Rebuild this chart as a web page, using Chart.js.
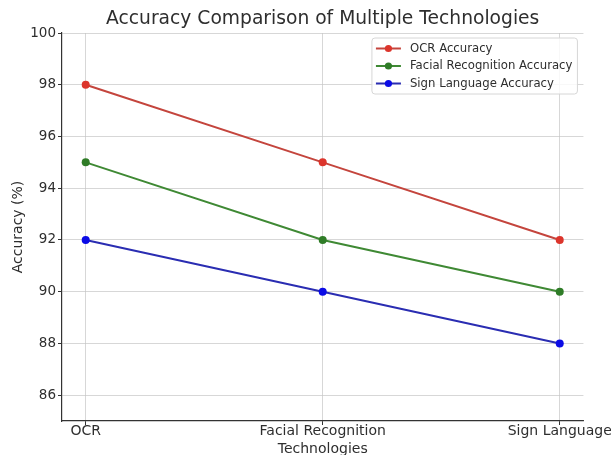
<!DOCTYPE html>
<html>
<head>
<meta charset="utf-8">
<script src="https://cdn.jsdelivr.net/npm/chart.js@4.4.1/dist/chart.umd.min.js"></script>
<style>
  html, body { margin: 0; padding: 0; background: #fff; }
  #wrap { width: 611px; height: 455px; }
</style>
</head>
<body>
<div id="wrap"><canvas id="c" width="611" height="455"></canvas></div>
<script>
// Technologies compared along the x axis
const categories = ['OCR', 'Facial Recognition', 'Sign Language'];

// Accuracy (%) per technology
const ocrAccuracy = [98, 95, 92];
const facialAccuracy = [95, 92, 90];
const signAccuracy = [92, 90, 88];

// Series names
const seriesNames = ['OCR Accuracy', 'Facial Recognition Accuracy', 'Sign Language Accuracy'];

// Y tick labels
const yTicks = [86, 88, 90, 92, 94, 96, 98, 100];

const chartTitle = 'Accuracy Comparison of Multiple Technologies';

const FONT = "'DejaVu Sans', 'Liberation Sans', sans-serif";
const TEXT = '#2e2e2e';

const lineColors = ['#c4453d', '#3f8934', '#2a2db2'];
const pointColors = ['#dc352c', '#2f7c27', '#0b0be6'];
const seriesValues = [ocrAccuracy, facialAccuracy, signAccuracy];

const datasets = seriesValues.map((vals, s) => ({
  label: seriesNames[s],
  data: vals.map((v, i) => ({ x: i, y: v })),
  borderColor: lineColors[s],
  backgroundColor: pointColors[s],
  pointBackgroundColor: pointColors[s],
  pointBorderColor: pointColors[s],
  borderWidth: 2,
  pointRadius: 4,
  pointBorderWidth: 0,
  pointHoverRadius: 4,
  tension: 0
}));

// Title centred over the plotting area
const centredTitle = {
  id: 'centredTitle',
  afterDraw(chart) {
    const ctx = chart.ctx;
    const area = chart.chartArea;
    ctx.save();
    ctx.font = '18.7px ' + FONT;
    ctx.fillStyle = TEXT;
    ctx.textAlign = 'center';
    ctx.textBaseline = 'middle';
    ctx.fillText(chartTitle, (area.left + area.right) / 2, 19);
    ctx.restore();
  }
};

// Legend drawn inside the plot area, upper right
const innerLegend = {
  id: 'innerLegend',
  afterDraw(chart) {
    const ctx = chart.ctx;
    const area = chart.chartArea;
    ctx.save();
    ctx.font = '11.7px ' + FONT;
    let maxW = 0;
    seriesNames.forEach(n => { maxW = Math.max(maxW, ctx.measureText(n).width); });
    const w = 38 + maxW + 5;
    const rowH = 17.5;
    const h = 56;
    const x0 = area.right - 6 - w;
    const y0 = area.top + 5;
    ctx.beginPath();
    if (ctx.roundRect) ctx.roundRect(x0, y0, w, h, 3); else ctx.rect(x0, y0, w, h);
    ctx.fillStyle = 'rgba(255,255,255,0.85)';
    ctx.fill();
    ctx.strokeStyle = '#d6d6d6';
    ctx.lineWidth = 1;
    ctx.stroke();
    seriesNames.forEach((n, i) => {
      const cy = y0 + 10.5 + i * rowH;
      ctx.beginPath();
      ctx.moveTo(x0 + 4, cy);
      ctx.lineTo(x0 + 29, cy);
      ctx.strokeStyle = lineColors[i];
      ctx.lineWidth = 2;
      ctx.stroke();
      ctx.beginPath();
      ctx.arc(x0 + 16.5, cy, 3.6, 0, Math.PI * 2);
      ctx.fillStyle = pointColors[i];
      ctx.fill();
      ctx.fillStyle = TEXT;
      ctx.textBaseline = 'middle';
      ctx.textAlign = 'left';
      ctx.fillText(n, x0 + 38, cy);
    });
    ctx.restore();
  }
};

const gridStyle = {
  color: 'rgba(195,195,195,0.75)',
  borderDash: [2, 3],
  lineWidth: 0.9,
  tickLength: 4,
  tickColor: '#333',
  tickBorderDash: [],
  tickWidth: 1
};

new Chart(document.getElementById('c'), {
  type: 'line',
  data: { datasets },
  options: {
    responsive: false,
    animation: false,
    devicePixelRatio: 1,
    layout: { padding: { top: 33, right: 27, bottom: 0, left: 0 } },
    plugins: {
      legend: { display: false },
      tooltip: { enabled: false },
      title: { display: false }
    },
    scales: {
      x: {
        type: 'linear',
        min: -0.1,
        max: 2.1,
        afterBuildTicks(scale) {
          scale.ticks = categories.map((_, i) => ({ value: i }));
        },
        afterFit(scale) { scale.height = 34; },
        ticks: {
          color: TEXT,
          padding: -2,
          maxRotation: 0,
          autoSkip: false,
          font: { family: FONT, size: 14 },
          callback: (v) => categories[v]
        },
        grid: gridStyle,
        border: { display: true, color: '#333', width: 1.2 },
        title: {
          display: true,
          text: 'Technologies',
          color: TEXT,
          font: { family: FONT, size: 14, lineHeight: 1.2 },
          padding: { top: 0, bottom: -3 }
        }
      },
      y: {
        min: 85,
        max: 100,
        afterBuildTicks(scale) {
          scale.ticks = yTicks.map(v => ({ value: v }));
        },
        afterFit(scale) { scale.width = 62; },
        ticks: {
          color: TEXT,
          padding: 2,
          font: { family: FONT, size: 13.5 }
        },
        grid: gridStyle,
        border: { display: true, color: '#333', width: 1.2 },
        title: {
          display: true,
          text: 'Accuracy (%)',
          color: TEXT,
          font: { family: FONT, size: 14, lineHeight: 1.2 },
          padding: { top: 9.6, bottom: 0 }
        }
      }
    }
  },
  plugins: [centredTitle, innerLegend]
});
</script>
</body>
</html>
